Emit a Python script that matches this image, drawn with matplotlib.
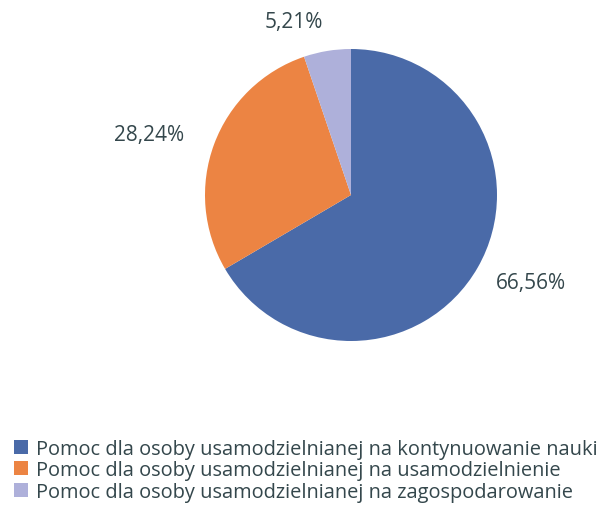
import numpy as np
import matplotlib.pyplot as plt

labels = ["Pomoc dla osoby usamodzielnianej na kontynuowanie nauki",
          "Pomoc dla osoby usamodzielnianej na usamodzielnienie",
          "Pomoc dla osoby usamodzielnianej na zagospodarowanie"]
values = [66.56, 28.24, 5.21]
colors = ["#4a6aa8", "#ec8443", "#aeb0da"]
label_dist = [1.37, 1.445, 1.25]
label_shift = [4, 3.7, 9]   # degrees, label angle vs wedge middle

plt.rcParams['font.family'] = ['Open Sans', 'DejaVu Sans']

fig = plt.figure(figsize=(6.05, 5.06), dpi=100)
ax = fig.add_axes([205 / 605, 1 - 342 / 506, 292 / 605, 292 / 506])
wedges, _ = ax.pie(values, colors=colors, startangle=90, counterclock=False,
                   radius=1, wedgeprops=dict(linewidth=0))
ax.set_xlim(-1, 1)
ax.set_ylim(-1, 1)
ax.axis('off')

for w, v, d, s in zip(wedges, values, label_dist, label_shift):
    ang = np.deg2rad((w.theta1 + w.theta2) / 2 + s)
    ax.text(d * np.cos(ang), d * np.sin(ang), f"{v:.2f}%".replace('.', ','),
            ha='center', va='center', fontsize=15, color='#34474c')

fig.legend(wedges, labels, loc='upper left', bbox_to_anchor=(6 / 605, 1 - 432 / 506),
           frameon=False, fontsize=14.4, handlelength=0.7, handleheight=0.7,
           handletextpad=0.4, labelspacing=0.07, borderaxespad=0, labelcolor='#34474c')

fig.savefig("out.png", dpi=100)
